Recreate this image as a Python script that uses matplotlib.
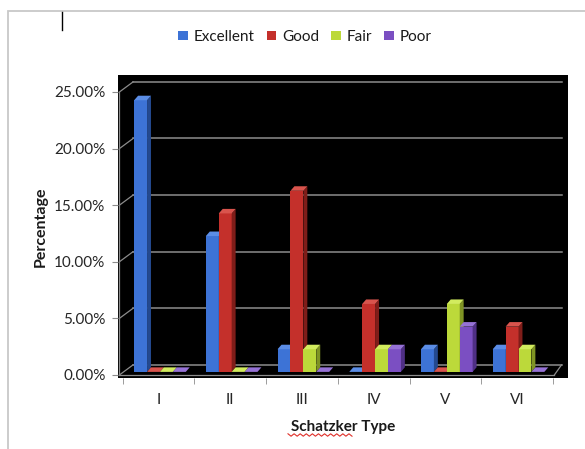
import matplotlib
matplotlib.use("Agg")
import matplotlib.pyplot as plt
from matplotlib.patches import Polygon, Patch, Rectangle
from matplotlib.lines import Line2D
from matplotlib.ticker import FuncFormatter
import numpy as np

categories = ["I", "II", "III", "IV", "V", "VI"]
series_names = ["Excellent", "Good", "Fair", "Poor"]
excellent = [24, 12, 2, 0, 2, 2]
good = [0, 14, 16, 6, 0, 4]
fair = [0, 0, 2, 2, 6, 2]
poor = [0, 0, 0, 2, 4, 0]
y_ticks = [0, 5, 10, 15, 20, 25]

colors = ["#3d73d6", "#c4302b", "#bcd93a", "#7b4fc2"]
sides = ["#24498f", "#7f1d19", "#7f9424", "#4f2f85"]
tops = ["#5b8de6", "#d9544d", "#d2ec5e", "#9672d6"]

plt.rcParams["font.family"] = ["Lato", "DejaVu Sans"]

fig = plt.figure(figsize=(5.85, 4.49), dpi=100)
W, H = 585.0, 449.0

# outer frame
fig.patches.append(Rectangle((8 / W, -0.05), 1.2, 1 - 11 / H + 0.05, transform=fig.transFigure,
                             fill=False, edgecolor="#c8c8c8", linewidth=1.3))
# text cursor
fig.add_artist(Line2D([62 / W, 62 / W], [1 - 12 / H, 1 - 30 / H], color="black", lw=1,
                      transform=fig.transFigure))
# spell-check squiggle under "Schatzker"
sq_x = np.linspace(288, 352, 22)
sq_y = 435 + np.where(np.arange(22) % 2 == 0, -1.2, 1.2)
fig.add_artist(Line2D(sq_x / W, 1 - sq_y / H, color="#e0302a", lw=0.8, transform=fig.transFigure))

ax = fig.add_axes([118 / W, 1 - 378 / H, 450 / W, 303 / H])
ax.set_facecolor("black")
ax.set_xlim(-0.565, 5.71)
ax.set_ylim(-0.27, 26.5)

x = np.arange(len(categories))
bw = 0.18
ddx, ddy = 0.055, 0.4      # bar depth
wdx, wdy = 0.21, 0.89      # wall depth
base = 0.27                # bars sit mid-floor

# back wall gridlines and connectors
for t in y_ticks:
    ax.plot([-0.565 + wdx, 5.62], [t + wdy, t + wdy], color="#8c8c8c", lw=1.1, zorder=1)
    ax.plot([-0.565 + 0.02, -0.565 + wdx], [t, t + wdy], color="#8c8c8c", lw=0.9, zorder=1)
# floor
ax.plot([-0.55, 5.52], [0, 0], color="#8c8c8c", lw=0.9, zorder=1)
ax.plot([5.52, 5.62], [0, wdy], color="#8c8c8c", lw=0.9, zorder=1)
ax.plot([-0.555, -0.555], [0, 25], color="#8c8c8c", lw=0.9, zorder=1)

all_series = [excellent, good, fair, poor]
for k, vals in enumerate(all_series):
    xs = x + (k - 1.5) * bw + 0.02
    vals = np.array(vals, dtype=float)
    ax.bar(xs, vals, width=bw, bottom=base, color=colors[k], edgecolor="none", zorder=3 + k)
    for xi, v in zip(xs, vals):
        l, r = xi - bw / 2, xi + bw / 2
        top = base + v
        side = Polygon([(r, base), (r + ddx, base + ddy), (r + ddx, top + ddy), (r, top)],
                       closed=True, facecolor=sides[k], edgecolor="none", zorder=3 + k)
        topf = Polygon([(l, top), (l + ddx, top + ddy), (r + ddx, top + ddy), (r, top)],
                       closed=True, facecolor=tops[k], edgecolor="none", zorder=3 + k)
        ax.add_patch(side)
        ax.add_patch(topf)

for s in ax.spines.values():
    s.set_visible(False)

ax.set_yticks(y_ticks)
ax.yaxis.set_major_formatter(FuncFormatter(lambda v, p: f"{v:.2f}%"))
ax.tick_params(axis="y", length=4, color="#8c8c8c", labelsize=11, labelcolor="#262626", pad=5)
ax.set_xticks(x)
ax.set_xticklabels(categories)
ax.set_xticks(np.arange(-0.5, len(categories)), minor=True)
ax.tick_params(axis="x", which="major", length=0, labelsize=11, labelcolor="#262626", pad=11)
ax.tick_params(axis="x", which="minor", length=4, color="#8c8c8c")

ax.set_ylabel("Percentage", fontsize=11.5, fontweight="bold", color="#1a1a1a", labelpad=5)
ax.set_xlabel("Schatzker Type", fontsize=11, fontweight="bold", color="#1a1a1a", labelpad=9)

handles = [Patch(facecolor=c, edgecolor="none") for c in colors]
fig.legend(handles, series_names, loc="center", bbox_to_anchor=(305 / W, 1 - 37 / H), ncol=4,
           frameon=False, fontsize=11, handlelength=0.6, handleheight=0.6, handletextpad=0.4,
           columnspacing=0.8, labelcolor="#1a1a1a")

fig.savefig("out.png", dpi=100)
